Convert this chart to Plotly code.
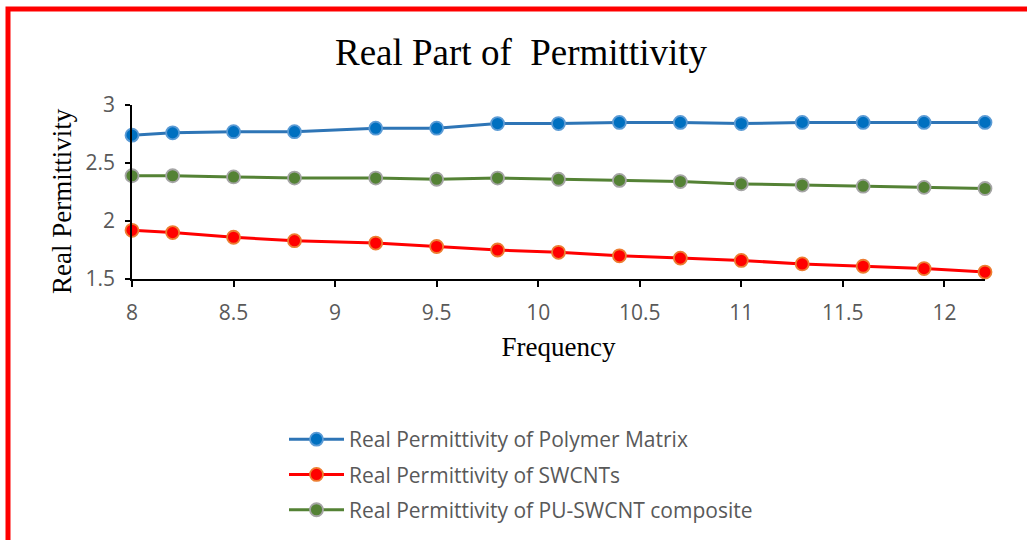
import plotly.graph_objects as go

# Frequency sweep and measured real permittivity for each material
frequency = [8, 8.2, 8.5, 8.8, 9.2, 9.5, 9.8, 10.1, 10.4, 10.7, 11, 11.3, 11.6, 11.9, 12.2]
polymer_matrix = [2.74, 2.76, 2.77, 2.77, 2.80, 2.80, 2.84, 2.84, 2.85, 2.85, 2.84, 2.85, 2.85, 2.85, 2.85]
swcnts = [1.92, 1.90, 1.86, 1.83, 1.81, 1.78, 1.75, 1.73, 1.70, 1.68, 1.66, 1.63, 1.61, 1.59, 1.56]
pu_swcnt = [2.39, 2.39, 2.38, 2.37, 2.37, 2.36, 2.37, 2.36, 2.35, 2.34, 2.32, 2.31, 2.30, 2.29, 2.28]

series_names = [
    "Real Permittivity of Polymer Matrix",
    "Real Permittivity of SWCNTs",
    "Real Permittivity of PU-SWCNT composite",
]
x_ticks = [8, 8.5, 9, 9.5, 10, 10.5, 11, 11.5, 12]
y_ticks = [1.5, 2, 2.5, 3]

styles = [
    dict(line="#2E75B6", fill="#0070C0", edge="#5B9BD5"),
    dict(line="#FF0000", fill="#FF0000", edge="#ED7D31"),
    dict(line="#548235", fill="#548235", edge="#A5A5A5"),
]

fig = go.Figure()
for name, values, st in zip(series_names, [polymer_matrix, swcnts, pu_swcnt], styles):
    fig.add_trace(go.Scatter(
        x=frequency, y=values, name=name, mode="lines+markers",
        legendgroup=name,
        line=dict(color=st["line"], width=3),
        marker=dict(size=13, color=st["fill"], line=dict(color=st["edge"], width=1.8)),
        cliponaxis=False,
    ))

# pixel geometry of the plotting area
W, H = 1027, 540
L, R, T, B = 132, 42, 105, 261
pw, ph = W - L - R, H - T - B

def px(xpix):
    return (xpix - L) / pw

def py(ypix):
    return (H - B - ypix) / ph

sans = "Open Sans"
serif = "Liberation Serif"

fig.update_layout(
    width=W, height=H,
    margin=dict(l=L, r=R, t=T, b=B, pad=0, autoexpand=False),
    paper_bgcolor="white", plot_bgcolor="white",
    showlegend=True,
    title=dict(
        text="Real Part of \u00a0Permittivity",
        font=dict(family=serif, size=37, color="black"),
        x=px(521), xref="paper", xanchor="center",
        y=1 - 52 / H, yref="container", yanchor="middle",
    ),
    xaxis=dict(
        range=[8, 12.2], tickvals=x_ticks, ticktext=[f"{v:g}" for v in x_ticks],
        showgrid=False, zeroline=False, showline=True, linecolor="black", linewidth=1.5,
        ticks="outside", ticklen=6, tickwidth=1.5, tickcolor="black",
        tickfont=dict(family=sans, size=21, color="#595959"),
        ticklabelstandoff=8,
        title=dict(text="Frequency", font=dict(family=serif, size=27, color="black"), standoff=12),
    ),
    yaxis=dict(
        range=[1.5, 3], tickvals=y_ticks, ticktext=[f"{v:g}" for v in y_ticks],
        showgrid=False, zeroline=False, showline=True, linecolor="black", linewidth=1.5,
        ticks="outside", ticklen=5, tickwidth=1.5, tickcolor="black",
        tickfont=dict(family=sans, size=21, color="#595959"),
        ticklabelstandoff=6,
    ),
    annotations=[dict(
        text="Real Permittivity", textangle=-90, showarrow=False,
        xref="paper", yref="paper", x=px(62), y=py(201),
        xanchor="center", yanchor="middle",
        font=dict(family=serif, size=27, color="black"),
    )],
    legend=dict(
        x=px(284), xanchor="left", y=py(419), yanchor="top",
        orientation="v", traceorder="grouped", tracegroupgap=5,
        font=dict(family=sans, size=21, color="#595959"),
        bgcolor="rgba(0,0,0,0)", itemwidth=55,
    ),
    shapes=[dict(
        type="rect", xref="paper", yref="paper",
        x0=px(8), x1=px(1045), y0=py(560), y1=py(9),
        line=dict(color="#FF0000", width=5), fillcolor="rgba(0,0,0,0)", layer="above",
    )],
)

fig.write_html("out.html")
